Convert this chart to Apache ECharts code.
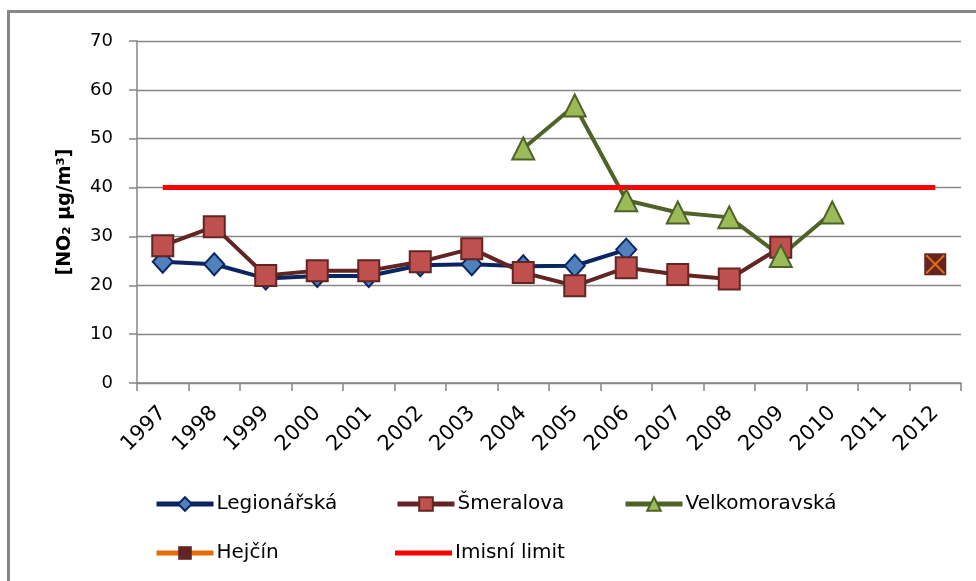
<!DOCTYPE HTML>
<html lang="cs">

<head>
	<meta charset="utf-8">
	<title>NO2 - roční průměry</title>
	<style>
		html, body {
			margin: 0;
			padding: 0;
			background: #fff;
			overflow: hidden;
		}
		#main {
			width: 976px;
			height: 581px;
		}
		/* frame of the chart area, runs off the right and bottom edge */
		#frame {
			position: absolute;
			left: 7px;
			top: 10px;
			width: 1000px;
			height: 1000px;
			border-top: 3px solid #868686;
			border-left: 3px solid #868686;
			pointer-events: none;
		}
	</style>
</head>

<body>
	<div id="main"></div>
	<div id="frame"></div>

	<script src="https://cdn.jsdelivr.net/npm/echarts@6/dist/echarts.min.js"></script>
	<script>
		var years = ['1997', '1998', '1999', '2000', '2001', '2002', '2003', '2004',
			'2005', '2006', '2007', '2008', '2009', '2010', '2011', '2012'];
		var legionarska = [24.8, 24.3, 21.4, 21.9, 21.9, 24.1, 24.3, 23.9, 24.0, 27.3, null, null, null, null, null, null];
		var smeralova = [28.1, 32.0, 22.0, 23.0, 23.0, 24.8, 27.5, 22.6, 19.9, 23.6, 22.2, 21.3, 27.8, null, null, null];
		var velkomoravska = [null, null, null, null, null, null, null, 48.0, 56.8, 37.4, 34.9, 33.9, 26.0, 34.9, null, null];
		var hejcin = [null, null, null, null, null, null, null, null, null, null, null, null, null, null, null, 24.3];
		var limit = [40, 40, 40, 40, 40, 40, 40, 40, 40, 40, 40, 40, 40, 40, 40, 40];
		var yTicks = [0, 10, 20, 30, 40, 50, 60, 70];

		var font = '"DejaVu Sans", sans-serif';
		var gray = '#868686';

		var chart = echarts.init(document.getElementById('main'));

		// one legend per item so the two rows sit like in the original
		function legendItem(name, left, top, extra) {
			var lg = {
				data: [name],
				left: left,
				top: top,
				itemWidth: 57,
				itemHeight: 17,
				itemGap: 4,
				padding: 0,
				selectedMode: false,
				lineStyle: { width: 5 },
				textStyle: { fontFamily: font, fontSize: 20, color: '#000', padding: [0, 0, 0, -2] }
			};
			if (extra) Object.assign(lg, extra);
			return lg;
		}

		chart.setOption({
			animation: false,
			backgroundColor: '#fff',
			legend: [
				legendItem('Legionářská', 154, 494),
				legendItem('Šmeralova', 395, 494),
				legendItem('Velkomoravská', 623, 494),
				legendItem('Hejčín', 154, 543),
				legendItem('Imisní limit', 395, 543, { itemHeight: 5, icon: 'rect' })
			],
			grid: {
				left: 137,
				right: 15,
				top: 41,
				bottom: 198
			},
			xAxis: {
				type: 'category',
				data: years,
				boundaryGap: true,
				axisLine: { lineStyle: { color: gray, width: 1.5 } },
				axisTick: { show: true, length: 8, lineStyle: { color: gray, width: 1.5 } },
				axisLabel: {
					rotate: 45,
					margin: 27,
					interval: 0,
					fontFamily: font,
					fontSize: 21,
					color: '#000'
				}
			},
			yAxis: {
				type: 'value',
				min: yTicks[0],
				max: yTicks[yTicks.length - 1],
				interval: 10,
				name: '[NO₂ µg/m³]',
				nameLocation: 'middle',
				nameGap: 62,
				nameTextStyle: { fontFamily: font, fontSize: 19, fontWeight: 'bold', color: '#000' },
				axisLine: { show: true, lineStyle: { color: gray, width: 1.5 } },
				axisTick: { show: true, length: 8, lineStyle: { color: gray, width: 1.5 } },
				axisLabel: { margin: 24, fontFamily: font, fontSize: 18, color: '#000' },
				splitLine: { lineStyle: { color: gray, width: 1.3 } }
			},
			series: [{
				name: 'Legionářská',
				type: 'line',
				data: legionarska,
				symbol: 'diamond',
				symbolSize: [20, 22],
				lineStyle: { color: '#0B2563', width: 4 },
				itemStyle: { color: '#4F81BD', borderColor: '#0B2563', borderWidth: 2 }
			}, {
				name: 'Šmeralova',
				type: 'line',
				data: smeralova,
				symbol: 'rect',
				symbolSize: 21,
				lineStyle: { color: '#632523', width: 4 },
				itemStyle: { color: '#C0504D', borderColor: '#632523', borderWidth: 2 }
			}, {
				name: 'Velkomoravská',
				type: 'line',
				data: velkomoravska,
				symbol: 'triangle',
				symbolSize: 22,
				lineStyle: { color: '#4F6228', width: 4 },
				itemStyle: { color: '#9BBB59', borderColor: '#4F6228', borderWidth: 2 }
			}, {
				name: 'Hejčín',
				type: 'line',
				data: hejcin,
				symbol: 'rect',
				symbolSize: 22,
				lineStyle: { color: '#E46C0A', width: 4 },
				itemStyle: { color: '#632523' }
			}, {
				// orange cross drawn over the Hejčín marker
				name: 'Hejčín X',
				type: 'line',
				data: hejcin,
				symbol: 'path://M0,0L10,10M10,0L0,10',
				symbolSize: 18,
				lineStyle: { width: 0 },
				itemStyle: { color: 'transparent', borderColor: '#E46C0A', borderWidth: 2 }
			}, {
				name: 'Imisní limit',
				type: 'line',
				data: limit,
				symbol: 'none',
				lineStyle: { color: '#FF0000', width: 5 },
				itemStyle: { color: '#FF0000' }
			}]
		});
	</script>
</body>

</html>
